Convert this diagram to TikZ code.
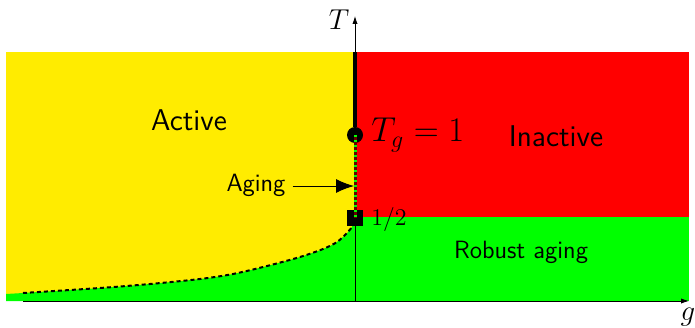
\documentclass[tikz,border=0pt]{standalone}
\usetikzlibrary{arrows.meta}

\definecolor{activeyellow}{RGB}{255,236,0}
\definecolor{inactivered}{RGB}{255,0,0}
\definecolor{robustgreen}{RGB}{0,255,0}

\begin{document}
\begin{tikzpicture}[x=0.5pt,y=0.5pt]

\tikzset{
  axis line/.style={line width=0.4pt, -{Latex[length=4pt,width=2.6pt]}},
  phase label/.style={font=\sffamily\fontsize{15}{18}\selectfont, anchor=base},
  small label/.style={font=\sffamily\fontsize{12.5}{15}\selectfont, anchor=base},
  point mark/.style={fill=black, inner sep=0pt, minimum size=8pt},
}

\useasboundingbox (0,0) rectangle (695,327);

% Phases
\fill[activeyellow] (6,26) rectangle (355,275);
\fill[inactivered] (355,110) rectangle (689,275);
\fill[robustgreen] (355,26) rectangle (689,110);
\fill[robustgreen] (6,26) -- (6,33) -- plot[smooth] coordinates {(23,34) (100,39) (150,43) (200,48) (233,53) (267,61) (300,70) (323,78) (337,85) (348,95) (353,102) (355,109)} -- (355,26) -- cycle;

% Boundary curve
\draw[line width=1pt, dash pattern=on 2pt off 1.5pt] plot[smooth] coordinates {(23,34) (100,39) (150,43) (200,48) (233,53) (267,61) (300,70) (323,78) (337,85) (348,95) (353,102) (355,109)};

% Axes
\coordinate (origin) at (355,26);
\coordinate (gleft) at (23,26);
\coordinate (gend) at (689,26);
\coordinate (tend) at (355,311);
\coordinate (ttop) at (355,275);
\draw[axis line] (gleft) -- (gend);
\draw[axis line] (origin) -- (tend);
\node[font=\Large] (tlab) at (339,307) {$T$};
\node[font=\Large, anchor=base] (glab) at (688,7) {$g$};

% Special points
\node[point mark, circle] (tg) at (355,192) {};
\node[point mark, rectangle] (half) at (355,109) {};
\draw[line width=2pt] (ttop) -- (tg);
\draw[line width=1.5pt, black!60!red] (tg.center) -- (half.center);
\draw[line width=1.5pt, robustgreen, dash pattern=on 1.2pt off 1.3pt] (tg.center) -- (half.center);
\node[font=\fontsize{17}{20}\selectfont, anchor=base west, inner sep=0pt] (tglab) at (371,185) {$T_g=1$};
\node[font=\fontsize{13}{16}\selectfont, anchor=base west, inner sep=0pt] (halflab) at (371,102) {$1/2$};

% Labels
\node[phase label] (active) at (189,197) {Active};
\node[phase label] (inactive) at (556,181) {Inactive};
\node[small label] (robust) at (521,69) {Robust aging};
\node[small label] (aging) at (256,136) {Aging};
\coordinate (agingtip) at (354,141);
\draw[line width=0.5pt, -{Latex[length=9pt,width=7pt]}] (aging.east |- agingtip) -- (agingtip);

\end{tikzpicture}
\end{document}
